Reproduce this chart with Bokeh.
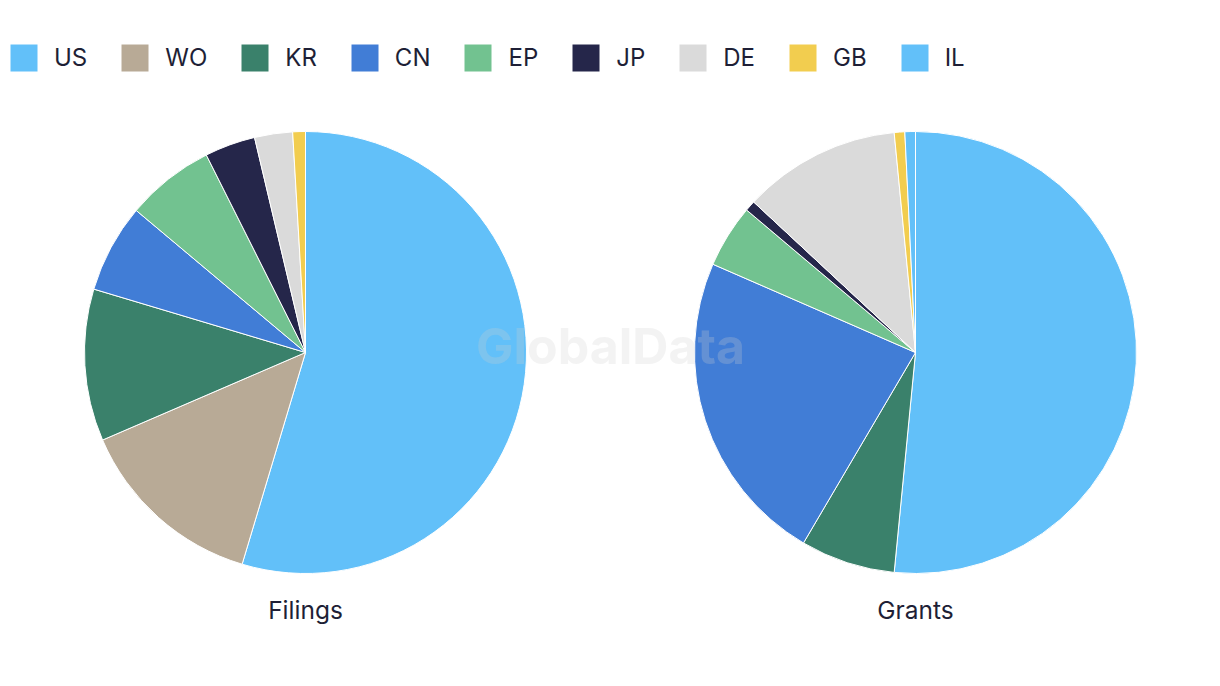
import math
from bokeh.plotting import figure
from bokeh.models import Range1d, ColumnDataSource, Legend, LegendItem
from bokeh.embed import file_html
from bokeh.resources import INLINE
from bokeh.core.properties import value

# ---- data ----
countries = ["US", "WO", "KR", "CN", "EP", "JP", "DE", "GB", "IL"]
colors = ["#62c0f9", "#b8aa96", "#3a816b", "#417dd6", "#72c290",
          "#25264a", "#dadada", "#f2cd4f", "#62c0f9"]
filings = [59, 15, 12, 7, 7, 4, 3, 1, 0]
grants = [67, 0, 9, 30, 6, 1, 15, 1, 1]
pie_titles = ["Filings", "Grants"]
watermark = "GlobalData"

# ---- layout ----
W, H = 1220, 686
pie_cx = [305, 915]
pie_cy = H - 352
R = 221
label_y = H - 609
TEXT = "#1e1f36"
FONT = "Inter"

p = figure(width=W, height=H, x_range=Range1d(0, W), y_range=Range1d(0, H),
           output_backend="svg", toolbar_location=None, min_border=0,
           x_axis_location=None, y_axis_location=None)
p.grid.visible = False
p.outline_line_color = None
p.background_fill_color = "white"

series = [filings, grants]
per_country = {c: dict(x=[], y=[], start=[], end=[]) for c in countries}
for k, vals in enumerate(series):
    total = sum(vals)
    cum = 0
    for c, v in zip(countries, vals):
        if v == 0:
            continue
        a0 = math.pi / 2 - 2 * math.pi * cum / total
        cum += v
        a1 = math.pi / 2 - 2 * math.pi * cum / total
        d = per_country[c]
        d["x"].append(pie_cx[k])
        d["y"].append(pie_cy)
        d["start"].append(a0)
        d["end"].append(a1)

items = []
for c, col in zip(countries, colors):
    src = ColumnDataSource(per_country[c])
    r = p.wedge(x="x", y="y", radius=R, radius_units="screen",
                start_angle="start", end_angle="end", direction="clock",
                fill_color=col, line_color="white", line_width=1, source=src)
    items.append(LegendItem(label=c, renderers=[r]))

p.text(x=pie_cx, y=[label_y] * 2, text=pie_titles, text_align="center",
       text_baseline="middle", text_font=value(FONT), text_font_size="24.5px",
       text_color=TEXT)

p.text(x=[W / 2], y=[H - 345], text=[watermark], text_align="center",
       text_baseline="middle", text_font=value(FONT), text_font_style="bold",
       text_font_size="50px", text_color="#d0d0d0", text_alpha=0.25)

legend = Legend(items=items, orientation="horizontal", location=(6, H - 75),
                padding=0, margin=0, spacing=30, glyph_width=35, glyph_height=35,
                label_standoff=13, label_text_font=FONT, label_text_font_size="24px",
                label_text_color=TEXT, border_line_color=None,
                background_fill_alpha=0)
p.add_layout(legend)

open("out.html", "w").write(file_html(p, INLINE))
